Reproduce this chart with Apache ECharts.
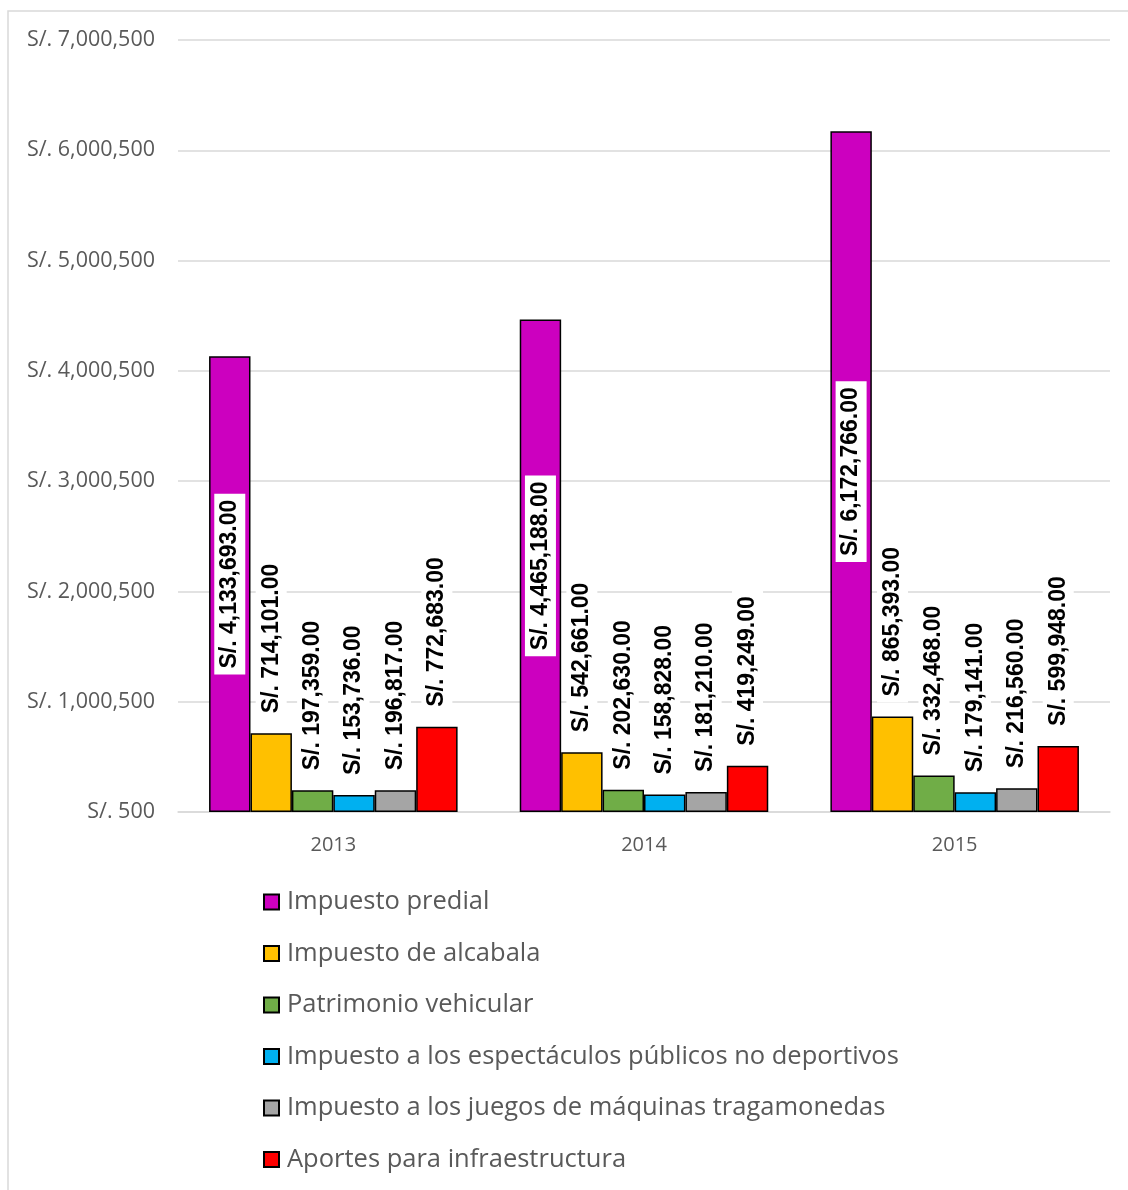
<!DOCTYPE html>
<html>
<head>
<meta charset="utf-8">
<script src="https://cdn.jsdelivr.net/npm/echarts@6/dist/echarts.min.js"></script>
<style>
  html, body { margin: 0; padding: 0; background: #ffffff; }
  #chart { width: 1128px; height: 1190px; }
</style>
</head>
<body>
<div id="chart"></div>
<script>
// Years on the category axis
const years = ['2013', '2014', '2015'];

// Revenue by item (soles)
const impuestoPredial = [4133693, 4465188, 6172766];
const impuestoAlcabala = [714101, 542661, 865393];
const patrimonioVehicular = [197359, 202630, 332468];
const espectaculos = [153736, 158828, 179141];
const juegosMaquinas = [196817, 181210, 216560];
const aportesInfra = [772683, 419249, 599948];

// Value axis range and step
const axisMin = 500;
const axisMax = 7000500;
const axisStep = 1000000;

const seriesNames = [
  'Impuesto predial',
  'Impuesto de alcabala',
  'Patrimonio vehicular',
  'Impuesto a los espectáculos públicos no deportivos',
  'Impuesto a los juegos de máquinas tragamonedas',
  'Aportes para infraestructura'
];
const seriesData = [impuestoPredial, impuestoAlcabala, patrimonioVehicular, espectaculos, juegosMaquinas, aportesInfra];
const seriesColors = ['#CC00BF', '#FFC000', '#70AD47', '#00B0F0', '#A5A5A5', '#FF0000'];

function money(v) {
  return 'S/. ' + Number(v).toLocaleString('en-US', { minimumFractionDigits: 2, maximumFractionDigits: 2 });
}
function tickMoney(v) {
  return 'S/. ' + Number(v).toLocaleString('en-US');
}

const uiFont = '"Open Sans", "Noto Sans", sans-serif';
const labelFont = { fontFamily: '"Liberation Sans", Arial, sans-serif', fontWeight: 'bold', fontSize: 23, color: '#000000' };

const series = seriesNames.map((name, i) => ({
  name: name,
  type: 'bar',
  data: seriesData[i],
  barGap: '0%',
  barCategoryGap: '20%',
  itemStyle: { color: seriesColors[i], borderColor: '#000000', borderWidth: 1.5 },
  label: Object.assign({
    show: true,
    position: i === 0 ? 'inside' : 'top',
    rotate: 90,
    align: i === 0 ? 'center' : 'left',
    verticalAlign: 'middle',
    distance: 14,
    backgroundColor: '#ffffff',
    padding: [4, 6, 4, 6],
    formatter: p => money(p.value)
  }, labelFont)
}));

const chart = echarts.init(document.getElementById('chart'), null, { renderer: 'canvas' });
chart.setOption({
  backgroundColor: '#ffffff',
  animation: false,
  textStyle: { fontFamily: uiFont },
  graphic: [{
    type: 'rect',
    shape: { x: 8, y: 11, width: 1300, height: 1400 },
    style: { fill: 'none', stroke: '#d9d9d9', lineWidth: 1.5 },
    silent: true
  }],
  grid: { left: 178, right: 18, top: 40, bottom: 378, containLabel: false },
  xAxis: {
    type: 'category',
    data: years,
    axisLine: { show: true, lineStyle: { color: '#d9d9d9', width: 1.5 } },
    axisTick: { show: false },
    axisLabel: { color: '#595959', fontSize: 20, margin: 23, fontFamily: uiFont }
  },
  yAxis: {
    type: 'value',
    min: axisMin,
    max: axisMax,
    interval: axisStep,
    axisLine: { show: false },
    axisTick: { show: false },
    splitLine: { lineStyle: { color: '#d9d9d9', width: 1.5 } },
    axisLabel: { color: '#595959', fontSize: 21.5, margin: 23, formatter: tickMoney, fontFamily: uiFont }
  },
  legend: {
    orient: 'vertical',
    left: 258,
    top: 882,
    itemWidth: 15,
    itemHeight: 15,
    itemGap: 21.5,
    icon: 'rect',
    data: seriesNames,
    textStyle: { color: '#595959', fontSize: 25.5, lineHeight: 30, fontFamily: uiFont, padding: [0, 0, 0, 3] }
  },
  series: series
});
</script>
</body>
</html>
